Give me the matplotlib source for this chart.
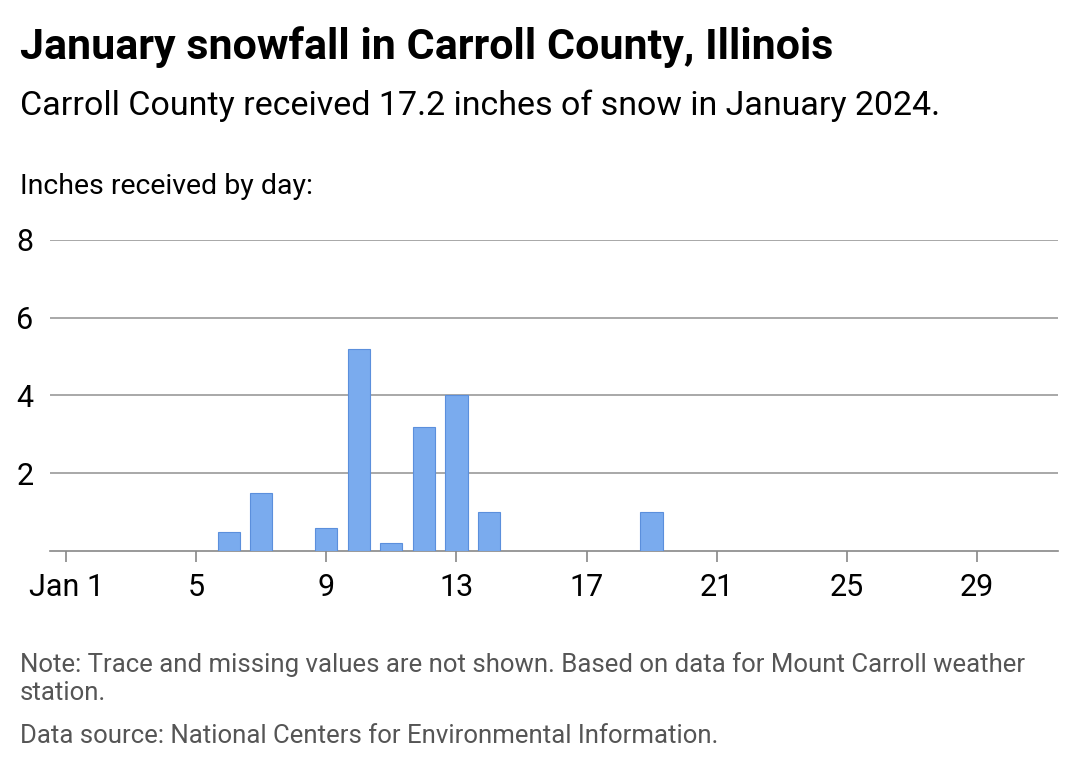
import matplotlib
matplotlib.use("Agg")
import matplotlib.pyplot as plt

days = [6, 7, 9, 10, 11, 12, 13, 14, 19]
snow = [0.5, 1.5, 0.6, 5.2, 0.2, 3.2, 4.0, 1.0, 1.0]
xticks = [1, 5, 9, 13, 17, 21, 25, 29]
xlabels = ["Jan 1", "5", "9", "13", "17", "21", "25", "29"]
yticks = [2, 4, 6, 8]

plt.rcParams['font.family'] = ['Roboto', 'DejaVu Sans']
fig = plt.figure(figsize=(10.8, 7.7), dpi=100)
ax = fig.add_axes([50/1080, 1-551/770, 1008/1080, 311/770])
ax.bar(days, snow, width=0.68, color="#7aabee", edgecolor="#5b8fdc", linewidth=0.8, zorder=3)
ax.set_xlim(0.5, 31.5)
ax.set_ylim(0, 8)
ax.set_yticks(yticks)
ax.set_yticklabels([str(v) for v in yticks])
ax.grid(axis='y', color="#999999", linewidth=1.2, zorder=0)
for s in ['top', 'right', 'left']:
    ax.spines[s].set_visible(False)
ax.spines['bottom'].set_color("#888888")
ax.spines['bottom'].set_linewidth(1.2)
ax.tick_params(axis='y', length=0, labelsize=22, pad=12)
ax.set_xticks(xticks)
ax.set_xticklabels(xlabels)
ax.tick_params(axis='x', length=8, color="#888888", width=1.2, labelsize=22, pad=8)

fig.text(20/1080, 1-47/770, "January snowfall in Carroll County, Illinois", fontsize=31, fontweight='bold', va='center')
fig.text(20/1080, 1-106/770, "Carroll County received 17.2 inches of snow in January 2024.", fontsize=24.5, va='center')
fig.text(20/1080, 1-186/770, "Inches received by day:", fontsize=20.5, va='center')
fig.text(20/1080, 1-665/770, "Note: Trace and missing values are not shown. Based on data for Mount Carroll weather", fontsize=18.5, color="#555555", va='center')
fig.text(20/1080, 1-693/770, "station.", fontsize=18.5, color="#555555", va='center')
fig.text(20/1080, 1-736/770, "Data source: National Centers for Environmental Information.", fontsize=18.5, color="#555555", va='center')
fig.savefig("out.png", dpi=100, facecolor="white")
